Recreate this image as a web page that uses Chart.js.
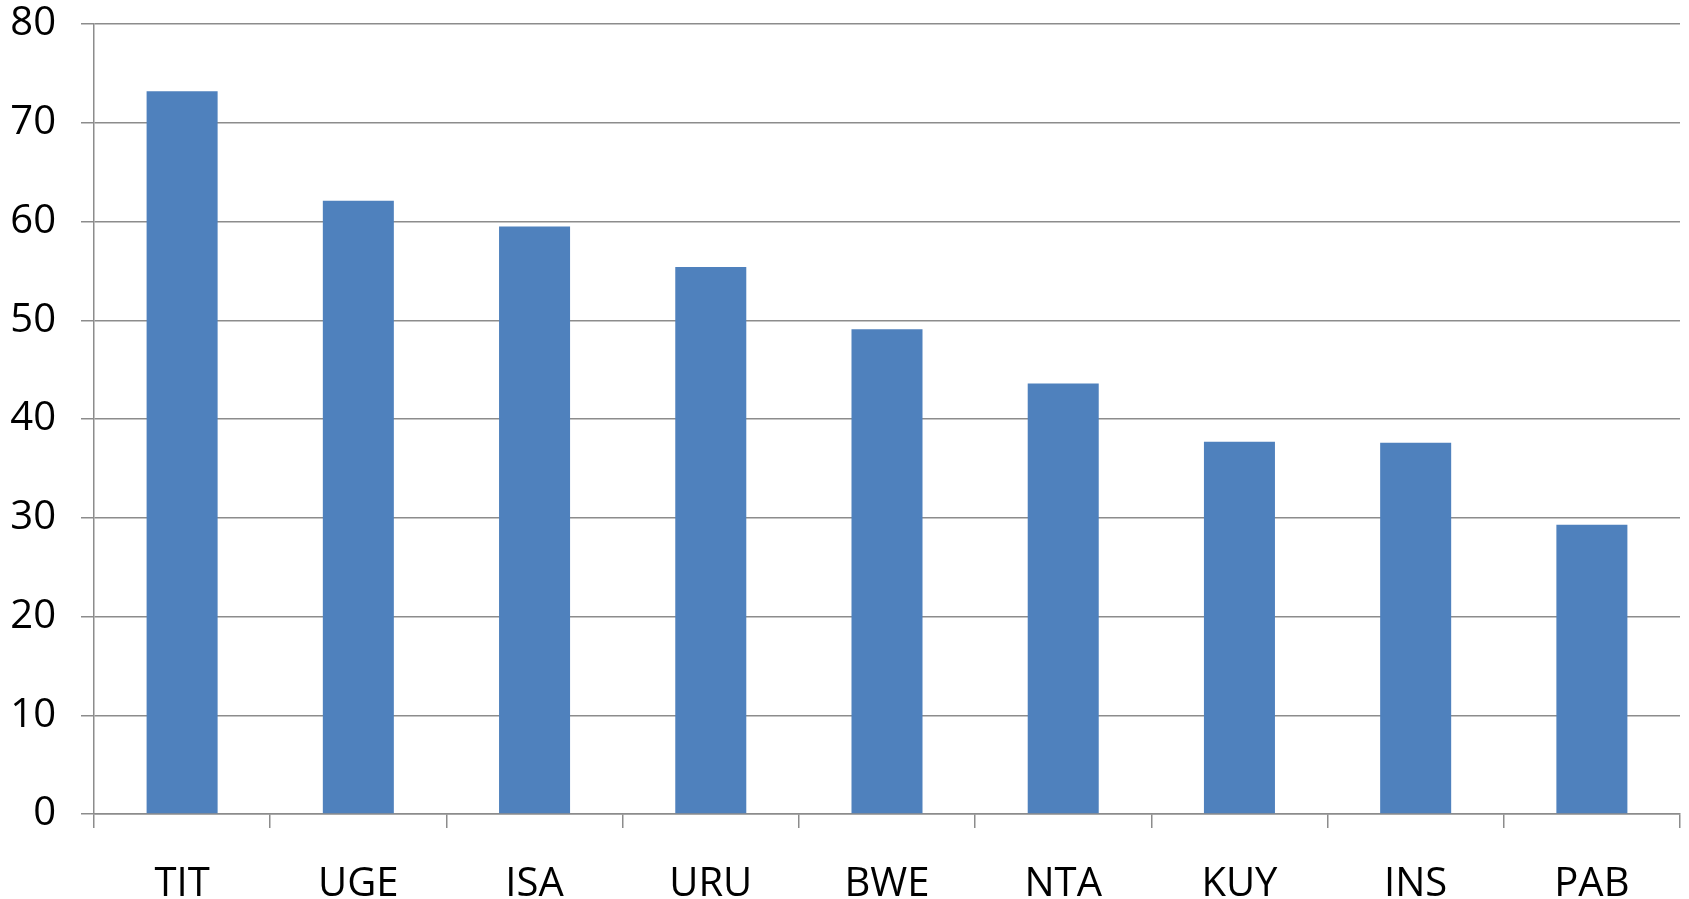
<!DOCTYPE html>
<html>
<head>
<meta charset="utf-8">
<script src="https://cdn.jsdelivr.net/npm/chart.js@4/dist/chart.umd.min.js"></script>
<style>
    html, body { margin: 0; padding: 0; background: #fff; }
    #wrap { width: 1689px; height: 899px; }
</style>
</head>
<body>
<div id="wrap"><canvas id="chartBarras"></canvas></div>
<script>
// datos
const categorias = ['TIT', 'UGE', 'ISA', 'URU', 'BWE', 'NTA', 'KUY', 'INS', 'PAB'];
const valores = [73.2, 62.1, 59.5, 55.4, 49.1, 43.6, 37.7, 37.6, 29.3];
const ejeY = { min: 0, max: 80, paso: 10 };

const gris = '#8c8c8c';
const fuente = { family: '"Open Sans", sans-serif', size: 40 };

const ctx = document.getElementById('chartBarras').getContext('2d');
new Chart(ctx, {
    type: 'bar',
    data: {
        labels: categorias,
        datasets: [{
            data: valores,
            backgroundColor: '#4F81BD',
            categoryPercentage: 1,
            barPercentage: 0.403
        }]
    },
    options: {
        responsive: true,
        maintainAspectRatio: false,
        animation: false,
        layout: { padding: { top: 24, right: 9, left: 0, bottom: 0 } },
        plugins: { legend: { display: false }, tooltip: { enabled: false } },
        scales: {
            x: {
                offset: true,
                grid: { offset: true, drawOnChartArea: false, drawTicks: true, tickLength: 14, color: gris, lineWidth: 1.5 },
                border: { color: gris, width: 1.5 },
                ticks: { color: '#000', font: fuente, padding: 33, maxRotation: 0 },
                afterFit: s => { s.height = 85; s.paddingLeft = 0; s.paddingRight = 0; }
            },
            y: {
                min: ejeY.min,
                max: ejeY.max,
                grid: { color: gris, lineWidth: 1.5, tickLength: 13 },
                border: { color: gris, width: 1.5 },
                ticks: { stepSize: ejeY.paso, color: '#000', font: fuente, padding: 25 },
                afterFit: s => { s.width = 94; s.paddingTop = 0; s.paddingBottom = 0; }
            }
        }
    }
});
</script>
</body>
</html>
